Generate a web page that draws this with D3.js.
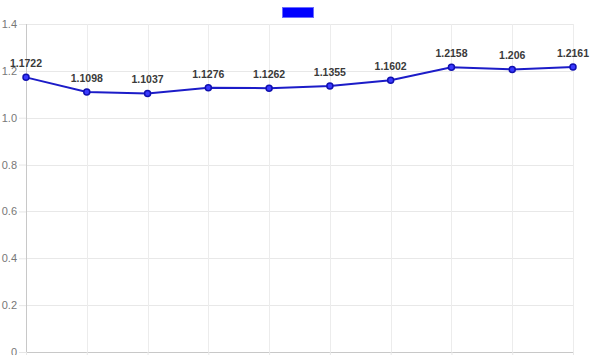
<!DOCTYPE html>
<html>
<head>
<meta charset="utf-8">
<script src="https://cdn.jsdelivr.net/npm/d3@7"></script>
<style>
html,body{margin:0;padding:0;background:#fff;}
svg{display:block;}
</style>
</head>
<body>
<svg id="chart" width="600" height="355"></svg>
<script>
const categories = ["1","2","3","4","5","6","7","8","9","10"];
const values = [1.1722, 1.1098, 1.1037, 1.1276, 1.1262, 1.1355, 1.1602, 1.2158, 1.206, 1.2161];
const yTicks = [0, 0.2, 0.4, 0.6, 0.8, 1.0, 1.2, 1.4];
const yTickLabels = ["0", "0.2", "0.4", "0.6", "0.8", "1.0", "1.2", "1.4"];

(function () {
const svg = d3.select("#chart");
const mLeft = 26, mRight = 573, mTop = 24, mBottom = 352;

const x = d3.scalePoint().domain(categories).range([mLeft, mRight]);
const y = d3.scaleLinear().domain([0, 1.4]).range([mBottom, mTop]);

// y axis ticks + labels
const yAxis = d3.axisLeft(y).tickValues(yTicks)
  .tickFormat((d, i) => yTickLabels[i])
  .tickSize(7).tickPadding(2);
const gy = svg.append("g").attr("transform", `translate(${mLeft},0)`).call(yAxis);
gy.select(".domain").remove();
gy.selectAll(".tick line").attr("stroke", "#e6e6e6");
gy.selectAll(".tick text").attr("fill", "#777").attr("font-size", 11)
  .attr("font-family", "'Liberation Sans', Arial, sans-serif");

// horizontal grid
svg.append("g").selectAll("line").data(yTicks).join("line")
  .attr("x1", mLeft).attr("x2", mRight)
  .attr("y1", d => Math.round(y(d)) + 0.5).attr("y2", d => Math.round(y(d)) + 0.5)
  .attr("stroke", d => d === 0 ? "#c8c8c8" : "#e8e8e8").attr("stroke-width", 1);

// x axis ticks (no labels visible)
const xAxis = d3.axisBottom(x).tickFormat("").tickSize(6);
const gx = svg.append("g").attr("transform", `translate(0,${mBottom})`).call(xAxis);
gx.select(".domain").remove();
gx.selectAll(".tick line").attr("stroke", "#e8e8e8");

// vertical grid
svg.append("g").selectAll("line").data(categories).join("line")
  .attr("x1", d => Math.round(x(d)) + 0.5).attr("x2", d => Math.round(x(d)) + 0.5)
  .attr("y1", mTop).attr("y2", mBottom)
  .attr("stroke", (d, i) => i === 0 ? "#c8c8c8" : "#ececec").attr("stroke-width", 1);

// legend
svg.append("rect").attr("x", 282.5).attr("y", 7.5).attr("width", 31).attr("height", 10)
  .attr("fill", "#0000ff").attr("stroke", "#6b6bff").attr("stroke-width", 1);

// line
const line = d3.line().x((d, i) => x(categories[i])).y(d => y(d));
svg.append("path").datum(values).attr("d", line)
  .attr("fill", "none").attr("stroke", "#1c1cc8").attr("stroke-width", 2);

// points
svg.append("g").selectAll("circle").data(values).join("circle")
  .attr("cx", (d, i) => x(categories[i])).attr("cy", d => y(d)).attr("r", 3)
  .attr("fill", "#3a3aff").attr("stroke", "#1010b0").attr("stroke-width", 1.5);

// data labels
svg.append("g").selectAll("text").data(values).join("text")
  .attr("x", (d, i) => x(categories[i])).attr("y", d => y(d) - 10)
  .attr("text-anchor", "middle")
  .attr("font-family", "'Liberation Sans', Arial, sans-serif")
  .attr("font-weight", "bold").attr("font-size", 10.5).attr("fill", "#3a3a3a")
  .text(d => String(d));
})();
</script>
</body>
</html>
